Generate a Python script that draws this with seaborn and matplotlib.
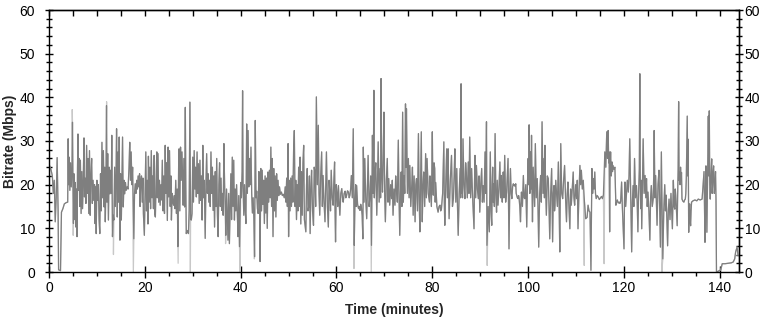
import matplotlib
matplotlib.use("Agg")
import matplotlib.pyplot as plt
import seaborn as sns
import pandas as pd
from matplotlib.ticker import MultipleLocator

# (minute, Mbps) readings, split into segments
seg_start = [
    (0.0, 0.0), (0.1, 24.4), (0.4, 23.5), (0.7, 22.0), (0.9, 18.0), (1.1, 21.0), (1.3, 11.5),
    (1.5, 17.0), (1.7, 26.2), (1.9, 14.0), (2.0, 0.5), (2.4, 0.3), (2.6, 13.7), (2.9, 14.5),
]

seg_a = [
    (3.2, 15.6), (3.6, 15.9), (3.9, 16.0), (4.0, 30.5), (4.1, 20.0), (4.2, 26.3), (4.35, 18.7),
    (4.5, 25.0), (4.65, 19.5), (4.8, 24.0), (4.9, 34.3), (5.0, 20.0), (5.1, 11.1), (5.2, 22.5),
    (5.35, 12.0), (5.5, 20.5), (5.6, 10.3), (5.75, 19.0), (5.85, 8.1), (5.95, 24.0), (6.05, 31.6),
    (6.15, 18.7), (6.3, 26.0), (6.4, 15.0), (6.55, 25.6), (6.7, 13.4), (6.85, 23.0), (7.0, 14.5),
    (7.15, 21.0), (7.3, 30.7), (7.4, 17.2), (7.55, 21.5), (7.7, 15.7), (7.85, 29.0), (8.0, 18.0),
    (8.15, 26.0), (8.3, 13.4), (8.45, 27.8), (8.6, 13.0), (8.75, 22.0), (8.9, 26.0), (9.05, 15.7),
    (9.2, 21.0), (9.35, 16.4), (9.5, 20.0), (9.6, 11.1), (9.75, 19.5), (9.85, 8.8), (10.0, 21.0),
    (10.15, 16.4), (10.3, 20.0), (10.45, 12.0), (10.6, 8.8), (10.75, 22.5), (10.9, 14.0),
    (11.05, 29.7), (11.2, 17.0), (11.35, 27.8), (11.5, 14.9), (11.65, 24.0), (11.75, 11.5),
    (11.9, 22.0), (12.0, 38.1), (12.1, 16.0), (12.25, 27.1), (12.4, 11.9), (12.55, 24.0),
    (12.7, 17.9), (12.85, 23.3), (13.0, 18.0), (13.1, 31.3), (13.25, 8.1), (13.4, 13.0),
    (13.55, 11.9), (13.7, 24.0), (13.85, 15.0), (14.0, 22.5), (14.1, 32.8), (14.25, 12.6),
    (14.4, 27.5), (14.55, 16.0), (14.65, 30.9), (14.8, 7.3), (14.95, 22.5), (15.1, 11.9),
    (15.25, 24.0), (15.35, 30.9), (15.5, 14.9), (15.65, 21.0), (15.8, 17.9), (15.95, 20.5),
    (16.1, 18.7), (16.3, 19.5), (16.5, 19.0), (16.7, 24.0), (16.85, 29.7), (17.0, 21.0),
    (17.15, 27.5), (17.3, 20.0), (17.45, 24.0), (17.7, 7.6), (17.85, 18.0), (18.0, 20.2),
    (18.15, 18.0), (18.3, 21.0), (18.45, 19.0), (18.6, 22.0), (18.75, 19.5), (18.9, 22.5),
    (19.0, 15.0), (19.15, 21.0), (19.3, 22.0), (19.45, 16.0), (19.6, 21.5), (19.7, 13.4),
    (19.9, 8.4),
]

seg_b = [
    (20.05, 18.0), (20.2, 27.5), (20.35, 14.0), (20.5, 21.0), (20.65, 11.0), (20.75, 26.5),
    (20.9, 16.0), (21.05, 24.0), (21.2, 14.5), (21.35, 27.8), (21.5, 17.0), (21.65, 22.0),
    (21.8, 14.5), (21.95, 26.7), (22.05, 13.4), (22.2, 12.6), (22.35, 21.0), (22.5, 27.5),
    (22.6, 17.0), (22.75, 27.1), (22.9, 16.0), (23.05, 21.0), (23.2, 15.3), (23.35, 20.0),
    (23.5, 16.5), (23.65, 25.6), (23.8, 14.0), (23.95, 22.0), (24.1, 13.4), (24.25, 29.0),
    (24.4, 18.0), (24.55, 25.0), (24.7, 11.8), (24.85, 28.6), (25.0, 17.2), (25.15, 27.8),
    (25.3, 15.0), (25.45, 22.0), (25.55, 11.9), (25.7, 18.0), (25.85, 16.0), (26.0, 15.3),
    (26.15, 17.5), (26.3, 14.5), (26.45, 21.0), (26.6, 13.4), (26.75, 19.0), (26.9, 5.8),
    (27.05, 24.0), (27.15, 28.2), (27.3, 14.0), (27.45, 28.6), (27.6, 21.0), (27.75, 27.5),
    (27.9, 21.0), (28.0, 15.3), (28.15, 26.0), (28.3, 14.9), (28.45, 37.7), (28.55, 20.0),
    (28.65, 8.8), (28.8, 9.5), (28.95, 9.2), (29.1, 8.8), (29.25, 14.0), (29.4, 38.9),
    (29.55, 12.0), (29.7, 11.9), (29.85, 13.4), (30.0, 26.3), (30.15, 16.0), (30.3, 27.8),
    (30.45, 19.0), (30.6, 24.0), (30.75, 17.2), (30.9, 27.5), (31.05, 18.0), (31.2, 24.8),
    (31.35, 15.7), (31.5, 25.6), (31.65, 16.4), (31.8, 22.0), (31.95, 11.9), (32.1, 29.0),
    (32.25, 17.0), (32.4, 21.0), (32.6, 7.7), (32.75, 20.0), (32.9, 27.1), (33.05, 18.0),
    (33.2, 22.5), (33.35, 16.0), (33.5, 21.0), (33.65, 15.0), (33.8, 27.5), (33.95, 18.0),
    (34.1, 24.0), (34.25, 14.1), (34.4, 22.0), (34.55, 10.3), (34.7, 23.0), (34.85, 15.0),
    (35.0, 26.0), (35.15, 13.0), (35.3, 8.1), (35.45, 20.0), (35.6, 25.0), (35.75, 15.0),
    (35.9, 21.5), (36.05, 14.1), (36.2, 18.0), (36.35, 13.0), (36.5, 29.4),
]

seg_c = [
    (36.65, 20.0), (36.8, 14.0), (36.9, 8.4), (37.05, 19.0), (37.2, 13.4), (37.35, 7.3),
    (37.5, 18.0), (37.65, 6.5), (37.8, 15.0), (37.95, 22.5), (38.1, 12.0), (38.25, 26.3),
    (38.4, 15.0), (38.55, 25.6), (38.7, 11.9), (38.85, 19.0), (39.0, 14.0), (39.15, 20.0),
    (39.3, 13.4), (39.45, 8.1), (39.6, 17.5), (39.75, 5.8), (40.0, 20.5), (40.15, 17.0),
    (40.3, 23.0), (40.4, 41.5), (40.5, 19.8), (40.65, 13.0), (40.8, 20.0), (40.95, 14.1),
    (41.1, 11.1), (41.25, 33.9), (41.4, 18.0), (41.55, 32.4), (41.7, 19.5), (41.85, 26.0),
    (42.0, 20.0), (42.15, 28.6), (42.3, 18.0), (42.45, 13.5), (42.6, 17.0), (42.75, 12.5),
    (42.9, 3.5), (43.05, 34.7), (43.2, 17.0), (43.35, 18.5), (43.5, 14.5), (43.65, 13.4),
    (43.8, 23.0), (43.95, 17.5), (44.05, 2.4), (44.2, 23.7), (44.35, 14.0), (44.5, 23.3),
    (44.65, 15.5), (44.8, 21.0), (44.95, 11.1), (45.1, 22.0), (45.25, 13.5), (45.4, 21.5),
    (45.55, 10.0), (45.7, 22.9), (45.85, 16.0), (46.0, 23.3), (46.15, 17.0), (46.3, 28.6),
    (46.45, 15.0), (46.6, 26.0), (46.75, 8.1), (46.9, 23.7), (47.05, 14.0), (47.2, 22.0),
    (47.35, 12.6), (47.5, 22.5), (47.65, 16.4), (47.8, 21.0), (47.95, 17.5), (48.1, 19.5),
    (48.3, 17.8), (48.5, 18.3), (48.7, 17.5), (48.9, 17.8), (49.1, 17.0), (49.3, 19.5),
    (49.45, 16.0), (49.6, 21.5), (49.75, 15.0), (49.9, 29.4), (50.0, 8.1), (50.15, 21.0),
    (50.3, 14.0), (50.45, 21.5), (50.6, 15.0), (50.75, 22.0), (50.9, 16.0), (51.05, 28.0),
    (51.2, 32.4), (51.35, 15.0), (51.5, 21.0), (51.65, 12.0), (51.8, 20.0), (51.95, 14.0),
    (52.1, 24.0), (52.25, 15.0), (52.4, 26.3), (52.55, 11.0), (52.7, 23.0), (52.85, 13.0),
    (53.0, 25.0), (53.15, 29.0), (53.3, 12.0),
]

seg_d = [
    (53.6, 9.2), (53.75, 20.0), (53.9, 23.7), (54.05, 14.0), (54.2, 15.0), (54.35, 22.0),
    (54.5, 8.8), (54.65, 19.0), (54.8, 23.3), (55.0, 14.0), (55.2, 10.7), (55.35, 24.0),
    (55.5, 22.9), (55.65, 15.0), (55.8, 40.1), (56.0, 20.0), (56.2, 33.6), (56.35, 18.0),
    (56.5, 13.0), (56.7, 22.0), (56.9, 27.5), (57.05, 15.0), (57.2, 22.1), (57.4, 16.0),
    (57.6, 11.5), (57.75, 20.0), (57.9, 27.5), (58.1, 15.0), (58.3, 10.3), (58.45, 21.0),
    (58.6, 18.3), (58.75, 14.0), (58.9, 23.3), (59.1, 17.0), (59.3, 15.3), (59.45, 21.0),
    (59.6, 25.2), (59.7, 14.0), (59.8, 6.9), (59.95, 20.0), (60.1, 18.0), (60.25, 15.0),
    (60.4, 19.8), (60.55, 16.0), (60.7, 13.0), (60.9, 18.0), (61.1, 19.1), (61.25, 17.0),
    (61.4, 16.0), (61.6, 18.0), (61.8, 18.5), (61.95, 17.0), (62.1, 17.5), (62.3, 18.6),
    (62.5, 18.3), (62.65, 17.0), (62.8, 17.6), (62.95, 19.0), (63.1, 22.1), (63.3, 17.0),
    (63.5, 32.8), (63.7, 6.1), (63.85, 16.0), (64.0, 20.0), (64.1, 15.0), (64.2, 19.8),
    (64.4, 15.5), (64.6, 14.5), (64.75, 15.0), (64.9, 14.1), (65.05, 15.5), (65.2, 14.8),
    (65.35, 13.0), (65.5, 7.6), (65.6, 28.6), (65.75, 16.0), (65.9, 26.0), (66.1, 17.0),
    (66.3, 12.2), (66.45, 20.0), (66.6, 26.7), (66.8, 15.0), (67.0, 17.6), (67.15, 22.0),
    (67.3, 6.1), (67.5, 31.3), (67.65, 18.0), (67.8, 41.6), (67.9, 17.0), (68.0, 21.4),
    (68.2, 25.0), (68.4, 13.0), (68.55, 20.0), (68.7, 29.8), (68.9, 16.0), (69.1, 23.7),
    (69.2, 17.0), (69.3, 44.3), (69.45, 22.0), (69.6, 18.3), (69.75, 26.0), (69.9, 36.6),
    (70.05, 18.0), (70.2, 11.5), (70.4, 21.0), (70.6, 26.0), (70.75, 16.0), (70.9, 21.4),
    (71.0, 18.0), (71.1, 15.3), (71.3, 20.0), (71.5, 16.8), (71.65, 21.0), (71.8, 13.0),
    (72.0, 19.0), (72.2, 15.3), (72.35, 22.0), (72.5, 19.1), (72.7, 16.0), (72.9, 30.2),
    (73.05, 17.0), (73.2, 8.4), (73.35, 18.0), (73.5, 22.9), (73.65, 15.0), (73.8, 36.6),
    (73.95, 16.0), (74.1, 22.1), (74.25, 18.0), (74.4, 38.5), (74.5, 24.0), (74.6, 37.4),
    (74.8, 18.0), (75.0, 26.0), (75.15, 17.0), (75.3, 24.4), (75.5, 15.0), (75.7, 19.8),
    (75.85, 24.0), (76.0, 13.0), (76.2, 22.0), (76.4, 11.5), (76.55, 20.0), (76.7, 21.4),
    (76.9, 14.0), (77.1, 31.7), (77.25, 17.0), (77.4, 9.2), (77.55, 20.0), (77.7, 32.1),
    (77.8, 18.0), (77.9, 11.5), (78.05, 20.0), (78.2, 22.9), (78.4, 15.0), (78.6, 27.1),
    (78.75, 17.0), (78.9, 26.0), (79.15, 18.0), (79.4, 16.0), (79.5, 22.0), (79.6, 20.6),
    (79.8, 15.0), (80.0, 32.1), (80.1, 20.0), (80.2, 17.6), (80.35, 25.0), (80.5, 23.7),
    (80.6, 16.0), (80.7, 20.5), (80.95, 15.0), (81.2, 13.7), (81.4, 15.0), (81.6, 15.3),
    (81.75, 14.0), (81.9, 14.5), (82.15, 18.0), (82.4, 29.8), (82.5, 16.0), (82.6, 10.7),
    (82.8, 20.0), (83.0, 28.2), (83.15, 17.0), (83.3, 28.2), (83.4, 18.0), (83.5, 12.2),
    (83.75, 21.0), (84.0, 26.7), (84.2, 15.0), (84.4, 16.8), (84.55, 22.0), (84.7, 28.2),
    (84.9, 16.0), (85.1, 23.7), (85.25, 15.0), (85.4, 8.4), (85.6, 18.0), (85.8, 23.7),
    (85.9, 17.0), (86.0, 43.1), (86.1, 18.0), (86.2, 22.1), (86.3, 17.0), (86.4, 30.5),
    (86.6, 20.0), (86.8, 16.8), (86.95, 25.0), (87.1, 22.5), (87.3, 17.0), (87.5, 25.2),
    (87.65, 18.0), (87.8, 30.9), (88.0, 17.0), (88.2, 23.7), (88.45, 16.0), (88.7, 9.9),
    (88.8, 20.0), (88.9, 26.7), (89.05, 17.0), (89.2, 24.4), (89.4, 19.0), (89.6, 16.8),
    (89.75, 22.0), (89.9, 13.7), (90.1, 20.0), (90.3, 23.7), (90.45, 16.0), (90.6, 19.8),
    (90.8, 16.0), (91.0, 27.5), (91.15, 18.0), (91.3, 34.4), (91.4, 6.1), (91.65, 15.0),
    (91.9, 9.2), (92.0, 18.0), (92.1, 27.5), (92.25, 14.0), (92.4, 10.7), (92.5, 20.0),
    (92.6, 24.0), (92.7, 16.0), (92.8, 20.2), (92.95, 15.0),
]

seg_e = [
    (93.1, 31.7), (93.25, 18.0), (93.4, 13.7), (93.55, 21.0), (93.7, 15.3), (93.9, 19.0),
    (94.1, 25.2), (94.25, 17.0), (94.4, 22.1), (94.5, 18.0), (94.6, 16.0), (94.7, 20.0),
    (94.8, 22.9), (94.95, 17.0), (95.1, 26.7), (95.3, 16.0), (95.5, 18.3), (95.65, 22.0),
    (95.8, 26.0), (96.0, 5.3), (96.15, 18.0), (96.3, 23.7), (96.45, 18.0), (96.6, 16.8),
    (96.75, 19.5), (96.9, 20.2), (97.05, 19.8), (97.2, 20.0), (97.3, 19.6), (97.4, 20.2),
    (97.5, 18.0), (97.6, 17.6), (97.75, 17.0), (97.9, 16.8), (98.0, 17.5), (98.1, 17.0),
    (98.25, 15.0), (98.4, 11.5), (98.5, 16.0), (98.6, 18.3), (98.8, 15.0), (99.0, 22.1),
    (99.15, 17.0), (99.3, 16.8), (99.5, 20.0), (99.7, 10.3), (99.85, 20.0), (100.0, 26.0),
    (100.1, 20.0), (100.2, 33.7), (100.35, 18.0), (100.5, 27.5), (100.6, 19.0), (100.7, 31.3),
    (100.8, 20.0), (100.9, 11.5), (101.05, 24.0), (101.2, 19.8), (101.35, 15.0), (101.5, 29.4),
    (101.7, 17.0), (101.9, 21.4), (102.05, 15.0), (102.2, 5.7), (102.4, 18.0), (102.6, 22.1),
    (102.75, 16.0), (102.9, 34.4), (103.1, 18.0), (103.3, 26.0), (103.4, 17.0), (103.5, 29.0),
    (103.65, 19.0), (103.8, 13.0), (104.0, 22.0), (104.2, 21.4), (104.35, 15.0), (104.5, 7.6),
    (104.7, 18.0), (104.9, 23.7), (105.0, 15.0), (105.1, 6.9), (105.25, 18.0), (105.4, 19.8),
    (105.5, 14.0), (105.6, 15.3), (105.75, 21.0), (105.9, 18.3), (106.1, 15.0), (106.3, 25.2),
    (106.45, 16.0), (106.6, 4.6), (106.7, 18.0), (106.8, 29.4), (107.0, 18.0), (107.2, 16.8),
    (107.4, 21.0), (107.6, 24.4), (107.8, 17.0), (108.0, 11.5), (108.15, 18.0), (108.3, 20.6),
    (108.5, 15.0), (108.7, 9.9), (108.85, 19.0), (109.0, 15.3), (109.2, 19.0), (109.4, 22.9),
    (109.55, 17.0), (109.7, 15.3), (109.9, 20.0), (110.1, 16.8), (110.25, 21.0), (110.4, 9.9),
    (110.6, 18.0), (110.8, 24.4), (110.95, 20.0), (111.1, 23.3), (111.3, 19.0), (111.5, 21.0),
    (111.75, 16.0), (112.0, 12.2), (112.3, 12.5), (112.5, 15.3), (112.7, 14.0), (112.9, 13.7),
    (113.1, 0.4), (113.3, 23.7), (113.45, 18.0), (113.6, 21.4), (113.75, 19.0), (113.9, 22.9),
    (114.05, 18.0), (114.2, 16.8), (114.4, 17.5), (114.6, 17.2), (114.85, 16.6), (115.1, 17.0),
    (115.3, 17.3), (115.5, 16.8), (115.7, 17.6),
]

seg_f = [
    (116.0, 27.5), (116.2, 24.0), (116.4, 32.1), (116.55, 26.0), (116.7, 32.4), (116.8, 25.0),
    (116.9, 27.5), (117.0, 9.2), (117.1, 24.0), (117.2, 27.5), (117.35, 22.0), (117.5, 25.2),
    (117.6, 23.0), (117.7, 24.4), (117.9, 23.5), (118.1, 24.0), (118.3, 15.3), (118.45, 16.0),
    (118.6, 16.5), (118.8, 15.8), (119.0, 16.0), (119.15, 15.7), (119.3, 16.2), (119.5, 20.6),
    (119.65, 15.0), (119.8, 10.7), (120.0, 5.3), (120.1, 16.0), (120.2, 20.6), (120.35, 15.0),
    (120.5, 17.6), (120.7, 21.0), (120.9, 18.3), (121.05, 22.0), (121.2, 30.5), (121.4, 17.0),
    (121.6, 4.6), (121.75, 16.0), (121.9, 19.8), (122.05, 15.0), (122.2, 26.0), (122.4, 17.0),
    (122.6, 19.8), (122.75, 16.0), (122.9, 9.2), (123.05, 18.0), (123.2, 23.7), (123.3, 45.4),
    (123.4, 20.0), (123.5, 14.5), (123.6, 21.0), (123.7, 9.9), (123.85, 20.0), (124.0, 30.5),
    (124.2, 18.0), (124.4, 22.1), (124.55, 17.0), (124.7, 21.4), (124.85, 15.0), (125.0, 18.3),
    (125.2, 14.0), (125.4, 7.3), (125.55, 17.0), (125.7, 19.8), (125.9, 15.0), (126.1, 16.8),
    (126.2, 22.0), (126.3, 32.4), (126.45, 17.0), (126.6, 22.1), (126.75, 16.0), (126.9, 10.7),
    (127.1, 20.0), (127.3, 23.3), (127.45, 14.0), (127.6, 5.7), (127.7, 17.0), (127.8, 27.5),
    (128.1, 3.0), (128.3, 14.0), (128.5, 20.0), (128.65, 14.0), (128.8, 17.6), (128.95, 12.0),
    (129.1, 6.0), (129.25, 14.0), (129.4, 16.7), (129.6, 12.0), (129.8, 18.0), (129.95, 14.0),
    (130.1, 9.9), (130.2, 16.0), (130.3, 21.0), (130.45, 15.0), (130.6, 14.4), (130.7, 19.0),
    (130.8, 17.5), (130.95, 14.0), (131.1, 10.6), (131.2, 18.0), (131.3, 23.6), (131.4, 39.0),
    (131.5, 21.0), (131.6, 22.8), (131.7, 20.0), (131.8, 24.0), (131.9, 21.0), (132.0, 22.8),
    (132.1, 16.7), (132.3, 16.2), (132.5, 16.0), (132.65, 16.5), (132.8, 16.7), (132.9, 18.0),
    (133.0, 21.3), (133.2, 35.7), (133.3, 22.0), (133.4, 30.4), (133.5, 9.1), (133.6, 14.0),
    (133.7, 15.6), (133.8, 12.0), (133.9, 10.6), (134.0, 14.0), (134.1, 16.0), (134.4, 16.3),
    (134.8, 16.5), (135.2, 16.3), (135.5, 16.7), (135.9, 16.5), (136.3, 16.7), (136.7, 23.0),
    (136.8, 15.0), (136.9, 6.8), (137.0, 18.0), (137.1, 24.3), (137.2, 17.0), (137.3, 9.1),
    (137.45, 22.0), (137.6, 35.7), (137.7, 22.0), (137.8, 36.9), (137.9, 20.0), (138.0, 16.7),
    (138.15, 22.0), (138.3, 25.9), (138.4, 18.0), (138.5, 19.8), (138.6, 23.0), (138.7, 24.3),
    (138.85, 18.0), (139.0, 20.5), (139.1, 23.0), (139.2, 16.7),
]

seg_end = [
    (139.3, 0.0), (139.7, 0.2), (140.2, 0.5), (140.5, 1.9), (141.1, 1.9), (141.8, 2.0),
    (142.4, 2.1), (142.8, 2.3), (143.1, 3.0), (143.3, 4.6), (143.6, 5.7), (143.8, 3.8),
]

# short light-grey excursions seen behind the main trace
dips = [
    (4.85, 37.2), (5.05, 8.4), (12.02, 39.0), (13.45, 4.0), (17.6, 0.0), (26.95, 2.0),
    (29.5, 0.0), (36.85, 6.5), (39.9, 0.0), (42.85, 3.0), (63.65, 0.8), (67.25, 0.0),
    (91.45, 1.5), (111.7, 1.5), (115.85, 1.9), (127.9, 0.0),
]

x_ticks = [0, 20, 40, 60, 80, 100, 120, 140]
y_ticks = [0, 10, 20, 30, 40, 50, 60]

segments = [seg_start, seg_a, seg_b, seg_c, seg_d, seg_e, seg_f, seg_end]
main = pd.DataFrame([p for s in segments for p in s], columns=["Time", "Bitrate"])
light = pd.concat([main, pd.DataFrame(dips, columns=["Time", "Bitrate"])],
                  ignore_index=True).sort_values("Time")

sns.set_theme(style="white")
plt.rcParams['font.family'] = ['Liberation Sans', 'DejaVu Sans']

fig = plt.figure(figsize=(7.67, 3.21), dpi=100)
ax = fig.add_axes([49 / 767, 49 / 321, 690 / 767, 262 / 321])

sns.lineplot(data=light, x="Time", y="Bitrate", color="#c8c8c8", linewidth=0.9,
             estimator=None, sort=False, ax=ax)
sns.lineplot(data=main, x="Time", y="Bitrate", color="#7f7f7f", linewidth=0.9,
             estimator=None, sort=False, ax=ax)

ax.set_xlim(0, 144)
ax.set_ylim(0, 60)
ax.set_xticks(x_ticks)
ax.set_yticks(y_ticks)
ax.xaxis.set_minor_locator(MultipleLocator(5))
ax.yaxis.set_minor_locator(MultipleLocator(2))

for s in ax.spines.values():
    s.set_visible(True)
    s.set_color("black")
    s.set_linewidth(1.0)

ax.tick_params(axis="y", which="major", direction="inout", length=6, width=1,
               color="black", labelsize=10, pad=7, left=True, labelcolor="black")
ax.tick_params(axis="y", which="minor", direction="inout", length=4, width=1,
               color="black", left=True)
ax.tick_params(axis="x", which="major", direction="inout", length=9, width=1,
               color="black", labelsize=10, pad=2, bottom=True, labelcolor="black")
ax.tick_params(axis="x", which="minor", direction="out", length=3, width=1,
               color="black", bottom=True)

top = ax.secondary_xaxis("top")
top.set_xticks(x_ticks)
top.xaxis.set_minor_locator(MultipleLocator(5))
top.tick_params(which="both", direction="in", length=4, width=1, color="black",
                labeltop=False, top=True)
top.spines["top"].set_linewidth(1.0)

right = ax.secondary_yaxis("right")
right.set_yticks(y_ticks)
right.yaxis.set_minor_locator(MultipleLocator(2))
right.tick_params(which="major", direction="inout", length=6, width=1, color="black",
                  labelsize=10, pad=1, right=True, labelcolor="black")
right.tick_params(which="minor", direction="inout", length=4, width=1, color="black",
                  right=True)
right.spines["right"].set_linewidth(1.0)

ax.grid(False)
ax.set_xlabel("Time (minutes)", fontsize=10, fontweight="bold", labelpad=6)
ax.set_ylabel("Bitrate (Mbps)", fontsize=10, fontweight="bold", labelpad=2)

fig.savefig("out.png", dpi=100)
